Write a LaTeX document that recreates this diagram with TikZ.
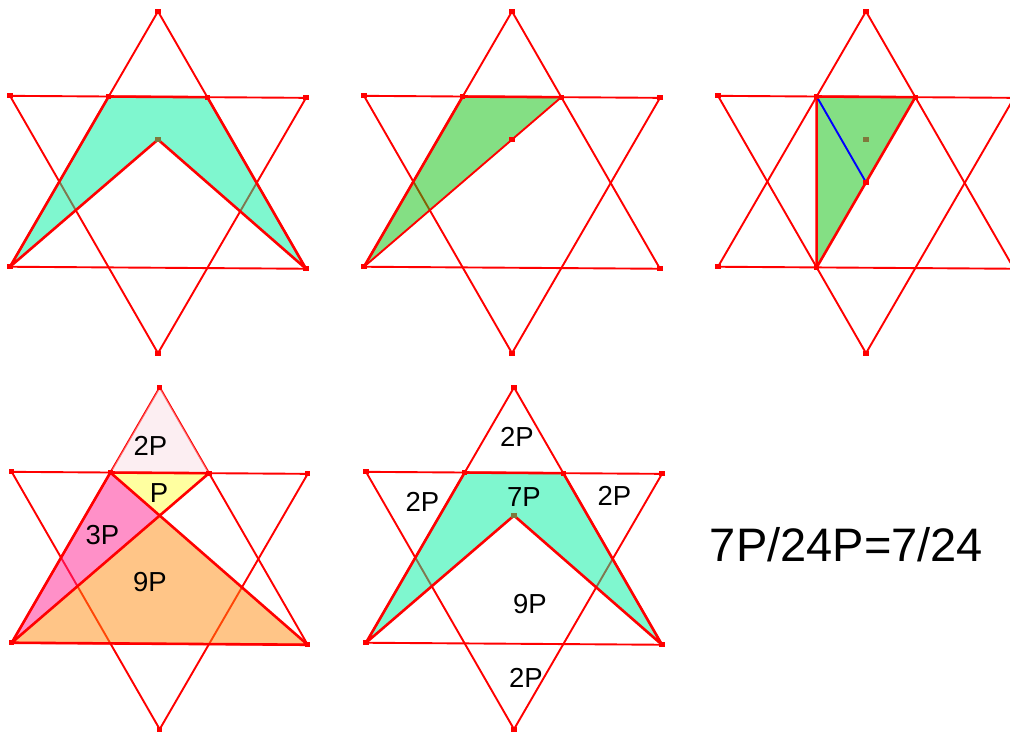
\documentclass[tikz,border=0pt]{standalone}
\usepackage{fontspec}
\setmainfont{Liberation Sans}
\definecolor{aqua}{RGB}{0,240,160}
\definecolor{grn}{RGB}{10,192,10}
\definecolor{lpink}{RGB}{249,221,229}
\definecolor{yel}{RGB}{255,255,65}
\definecolor{mag}{RGB}{255,33,145}
\definecolor{orng}{RGB}{255,140,15}
\definecolor{olive}{RGB}{128,120,60}
\newcommand\mkstar[3]{%
 \begin{scope}[shift={(#2,#3)}, yslant=-0.00676]
  \coordinate (#1T) at (0,-170.9);
  \coordinate (#1UL) at (-148,-85.45);
  \coordinate (#1UR) at (148,-85.45);
  \coordinate (#1LL) at (-148,85.45);
  \coordinate (#1LR) at (148,85.45);
  \coordinate (#1B) at (0,170.9);
  \coordinate (#1h1) at (-49.33,-85.45);
  \coordinate (#1h2) at (49.33,-85.45);
  \coordinate (#1h5) at (-49.33,85.45);
  \coordinate (#1O) at (0,0);
  \coordinate (#1M) at (0,-42.73);
 \end{scope}
 \draw[starline] (#1T) -- (#1LL) -- (#1LR) -- cycle;
 \draw[starline] (#1UL) -- (#1UR) -- (#1B) -- cycle;}
\newcommand\pdot[2][red]{\fill[#1] (#2) ++(-2.6,-2.6) rectangle ++(5.2,5.2);}
\newcommand\stardots[1]{\pdot{#1T}\pdot{#1UL}\pdot{#1UR}\pdot{#1LL}\pdot{#1LR}\pdot{#1B}\pdot{#1h1}\pdot{#1h2}}
\begin{document}
\begin{tikzpicture}[x=1pt,y=-1pt,line join=round,
  starline/.style={draw=red,line width=1.9pt},
  border/.style={draw=red,line width=2.6pt},
  shade/.style={fill=#1,fill opacity=0.5},
  lbl/.style={inner sep=0pt,font=\fontsize{27.5}{30}\selectfont},
  big/.style={inner sep=0pt,font=\fontsize{47}{50}\selectfont}]
\useasboundingbox (0,0) rectangle (1010,733);
% star 1
\mkstar{a}{158}{182.3}
\fill[shade=aqua] (aLL) -- (ah1) -- (ah2) -- (aLR) -- (aM) -- cycle;
\draw[border] (aLL) -- (ah1) -- (ah2) -- (aLR) -- (aM) -- cycle;
\stardots{a}\pdot[olive]{aM}
% star 2
\mkstar{b}{512}{182.3}
\fill[shade=grn] (bLL) -- (bh1) -- (bh2) -- cycle;
\draw[border] (bLL) -- (bh1) -- (bh2);
\draw[starline] (bh2) -- (bLL);
\stardots{b}\pdot{bM}
% star 3
\mkstar{c}{866}{182.3}
\fill[shade=grn] (ch1) -- (ch2) -- (ch5) -- cycle;
\draw[border] (ch1) -- (ch2) -- (ch5) -- cycle;
\draw[blue,line width=1.9pt] (ch1) -- (cO);
\stardots{c}\pdot{ch5}\pdot{cO}\pdot[olive]{cM}
% star 4
\mkstar{d}{159.7}{558.3}
\fill[shade=lpink] (dT) -- (dh1) -- (dh2) -- cycle;
\fill[shade=yel] (dh1) -- (dh2) -- (dM) -- cycle;
\fill[shade=mag] (dLL) -- (dh1) -- (dM) -- cycle;
\fill[shade=orng] (dLL) -- (dM) -- (dLR) -- cycle;
\draw[border] (dLL) -- (dh1) -- (dh2) -- (dM) -- (dh1);
\draw[border] (dLL) -- (dM) -- (dLR) -- cycle;
\stardots{d}
\node[lbl] (d2) at (150.5,445.7) {2P};
\node[lbl] (d1) at (159,493.3) {P};
\node[lbl] (d3) at (102.5,535.5) {3P};
\node[lbl] (d9) at (150,582) {9P};
% star 5
\mkstar{e}{514}{558.3}
\fill[shade=aqua] (eLL) -- (eh1) -- (eh2) -- (eLR) -- (eM) -- cycle;
\draw[border] (eLL) -- (eh1) -- (eh2) -- (eLR) -- (eM) -- cycle;
\stardots{e}\pdot[olive]{eM}
\node[lbl] (et) at (517,436.7) {2P};
\node[lbl] (el) at (422.5,502) {2P};
\node[lbl] (e7) at (524,497.5) {7P};
\node[lbl] (er) at (614.5,495.5) {2P};
\node[lbl] (e9) at (530,604) {9P};
\node[lbl] (eb) at (526,678.3) {2P};
% result
\node[big] (res) at (846.5,545) {7P/24P=7/24};
\end{tikzpicture}
\end{document}
